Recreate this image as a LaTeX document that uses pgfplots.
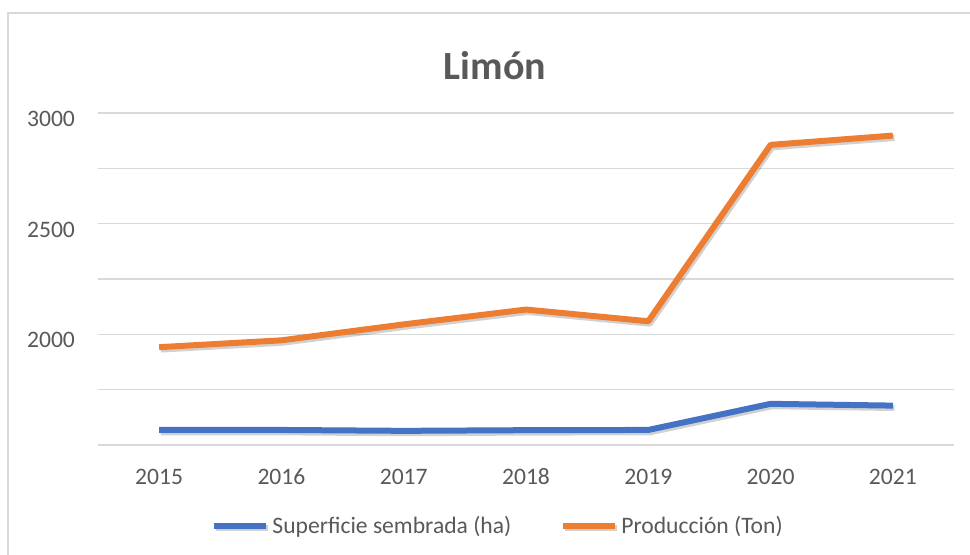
\documentclass[border=0pt]{standalone}
\usepackage{fontspec}
\setmainfont{Carlito}
\usepackage{pgfplots}
\pgfplotsset{compat=1.18}
\definecolor{txt}{HTML}{595959}
\definecolor{gridc}{HTML}{D9D9D9}
\definecolor{xblue}{HTML}{4472C4}
\definecolor{xorange}{HTML}{ED7D31}
\begin{document}
\begin{tikzpicture}
\begin{axis}[
  at={(49pt,54.5pt)}, anchor=south west,
  width=428pt, height=166pt, scale only axis,
  xmin=-0.5, xmax=6.5, ymin=1500, ymax=3000,
  xtick={0,1,2,3,4,5,6},
  xticklabels={2015,2016,2017,2018,2019,2020,2021},
  ytick={1500,1750,2000,2250,2500,2750,3000},
  yticklabels={,,2000,,2500,,3000},
  /pgf/number format/assume math mode=true,
  axis line style={draw=none},
  ymajorgrids, xmajorgrids=false, grid style={gridc, line width=0.75pt},
  major tick length=0pt,
  tick label style={font=\fontsize{11.8}{14}\selectfont, text=txt},
  xticklabel style={anchor=center, yshift=-16pt},
  yticklabel style={anchor=east, xshift=-8pt, yshift=-3pt},
  legend style={at={(0.468,-0.244)}, anchor=center, draw=none, fill=none,
    font=\fontsize{11.8}{14}\selectfont, text=txt, legend columns=2,
    /tikz/every even column/.append style={column sep=23pt},
    nodes={inner sep=1.5pt}},
  legend image code/.code={\draw[#1, line width=3pt] (0pt,0pt) -- (26pt,0pt);},
  clip=false,
]
\addplot[xblue, line width=3pt, line join=round,
  preaction={draw, black, opacity=0.18, line width=3pt, transform canvas={xshift=0.8pt, yshift=-1.2pt}}]
  coordinates {(0,1568) (1,1568) (2,1564) (3,1567) (4,1568) (5,1686) (6,1678)};
\addlegendentry{Superficie sembrada (ha)}
\addplot[xorange, line width=3pt, line join=round,
  preaction={draw, black, opacity=0.18, line width=3pt, transform canvas={xshift=0.8pt, yshift=-1.2pt}}]
  coordinates {(0,1942) (1,1973) (2,2045) (3,2112) (4,2059) (5,2856) (6,2898)};
\addlegendentry{Producción (Ton)}
\end{axis}
\pgfresetboundingbox
\useasboundingbox (0pt,0pt) rectangle (485pt,277pt);
\draw[gridc, line width=1pt] (4pt,-2pt) -- (4pt,270.5pt) -- (487pt,270.5pt);
\node[font=\fontsize{20}{24}\selectfont\bfseries, text=txt] at (247.5pt,244pt) {Limón};
\end{tikzpicture}
\end{document}
